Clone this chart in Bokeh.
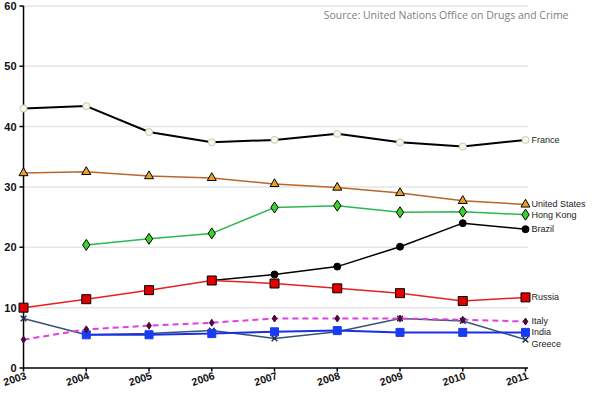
from bokeh.plotting import figure
from bokeh.models import Range1d, Label
from bokeh.core.properties import value
from bokeh.embed import file_html
from bokeh.resources import INLINE

years = [2003, 2004, 2005, 2006, 2007, 2008, 2009, 2010, 2011]
year_labels = [str(y) for y in years]
y_ticks = [0, 10, 20, 30, 40, 50, 60]
y_tick_labels = [str(v) for v in y_ticks]

france = [43.0, 43.4, 39.1, 37.4, 37.8, 38.8, 37.4, 36.7, 37.8]
united_states = [32.3, 32.5, 31.8, 31.5, 30.5, 29.9, 29.0, 27.7, 27.1]
hong_kong_years = [2004, 2005, 2006, 2007, 2008, 2009, 2010, 2011]
hong_kong = [20.4, 21.4, 22.3, 26.6, 26.9, 25.8, 25.9, 25.4]
brazil_years = [2006, 2007, 2008, 2009, 2010, 2011]
brazil = [14.5, 15.5, 16.8, 20.1, 24.0, 23.0]
russia = [10.0, 11.4, 12.9, 14.5, 14.0, 13.2, 12.4, 11.1, 11.7]
italy = [4.7, 6.4, 7.0, 7.5, 8.2, 8.2, 8.2, 8.0, 7.7]
india_years = [2004, 2005, 2006, 2007, 2008, 2009, 2010, 2011]
india = [5.5, 5.5, 5.7, 6.0, 6.2, 5.9, 5.9, 5.9]
greece = [8.2, 5.5, 5.7, 6.2, 4.9, 6.0, 8.2, 7.8, 4.7]

source_text = "Source: United Nations Office on Drugs and Crime"

x0 = years[0]
x_end = 2011.04
p = figure(width=586, height=388, output_backend="svg", toolbar_location=None,
           x_range=Range1d(2002.633, 2011.972), y_range=Range1d(-3.4, 60.9),
           min_border=0)
p.outline_line_color = None
p.background_fill_color = "white"
p.xgrid.visible = False
p.ygrid.visible = False
p.xaxis.visible = False
p.yaxis.visible = False

n_y = len(y_ticks)
n_x = len(years)
# horizontal gridlines
p.segment(x0=[x0] * (n_y - 1), x1=[x_end] * (n_y - 1), y0=y_ticks[1:], y1=y_ticks[1:],
          line_color="#e6e6e6", line_width=1.5)

tick_font = dict(text_font=value("Liberation Sans"), text_font_style="bold",
                 text_color="#111111")

# y axis
p.segment(x0=[x0], x1=[x0], y0=[y_ticks[0]], y1=[y_ticks[-1]], line_color="black", line_width=1.5)
p.segment(x0=[x0] * n_y, x1=[x0 - 0.065] * n_y, y0=y_ticks, y1=y_ticks,
          line_color="black", line_width=1.5)
p.text(x=[x0] * n_y, y=y_ticks, text=y_tick_labels, text_align="right", text_baseline="middle",
       x_offset=-7, text_font_size="11px", **tick_font)

# x axis
p.segment(x0=[x0], x1=[x_end], y0=[0], y1=[0], line_color="black", line_width=1.5)
p.segment(x0=years, x1=years, y0=[0] * n_x, y1=[-0.6] * n_x, line_color="black", line_width=1.5)
p.text(x=years, y=[0] * n_x, text=year_labels, angle=0.32, text_align="right",
       text_baseline="top", x_offset=1, y_offset=3, text_font_size="10.5px", **tick_font)

# Series
p.line(years, france, line_color="black", line_width=2)
p.scatter(years, france, marker="circle", size=7, fill_color="#f7f7ee", line_color="#c9c9a8")

p.line(years, united_states, line_color="#b8662c", line_width=1.5)
p.scatter(years, united_states, marker="triangle", size=9, fill_color="#e8a028", line_color="black")

p.line(hong_kong_years, hong_kong, line_color="#2fb552", line_width=1.5)
p.scatter(hong_kong_years, hong_kong, marker="diamond", size=11, fill_color="#3ad22c", line_color="black")

p.line(brazil_years, brazil, line_color="black", line_width=1.5)
p.scatter(brazil_years, brazil, marker="circle", size=7, fill_color="black", line_color="black")

p.line(years, russia, line_color="#e82020", line_width=1.5)
p.scatter(years, russia, marker="square", size=9, fill_color="#e00000", line_color="black")

p.line(years, greece, line_color="#3c5272", line_width=1.5)
p.scatter(years, greece, marker="x", size=8, line_color="#1e2c50", line_width=1.5)

p.line(india_years, india, line_color="#1a30e8", line_width=2)
p.scatter(india_years, india, marker="square", size=8, fill_color="#1a3cf0", line_color="#1a3cf0")

p.line(years, italy, line_color="#e040e0", line_width=2, line_dash="6 4")
p.scatter(years, italy, marker="diamond", size=7, fill_color="#4a0a3a", line_color="#4a0a3a")

names = ["France", "United States", "Hong Kong", "Brazil", "Russia", "Italy", "India", "Greece"]
last_vals = [france[-1], united_states[-1], hong_kong[-1], brazil[-1], russia[-1], italy[-1], india[-1], greece[-1]]
label_nudge = {"Italy": 1, "Greece": -4}
for n, v in zip(names, last_vals):
    p.add_layout(Label(x=years[-1], y=v, x_offset=6, y_offset=label_nudge.get(n, 0), text=n,
                       text_baseline="middle", text_font="Liberation Sans",
                       text_font_size="9px", text_color="#222222"))

p.add_layout(Label(x=years[-1], y=58.5, x_offset=43, text=source_text, text_align="right",
                   text_baseline="middle", text_font="Open Sans", text_font_size="10.5px",
                   text_color="#808080"))

open("out.html", "w").write(file_html(p, INLINE))
